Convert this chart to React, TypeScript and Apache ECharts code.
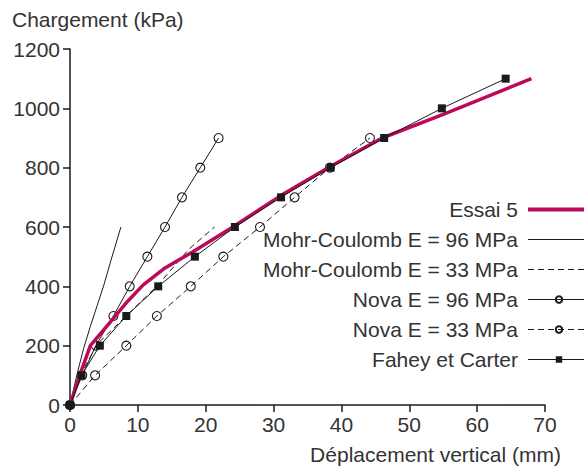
import React, { useEffect, useRef } from "react";
import * as echarts from "echarts";

const xTicks = [0, 10, 20, 30, 40, 50, 60, 70];
const yTicks = [0, 200, 400, 600, 800, 1000, 1200];

const essai5: [number, number][] = [
  [0, 0], [1.5, 105], [3, 200], [6.4, 292], [8.5, 350], [10.8, 405], [14, 462],
  [18, 515], [24, 600], [31, 705], [38.3, 803], [46, 900], [55, 980], [68, 1100],
];
const mc96: [number, number][] = [
  [0, 0], [1, 100], [2, 190], [3, 265], [4, 335], [5, 405], [6, 485], [7.5, 600],
];
const mc33: [number, number][] = [
  [0, 0], [1.5, 100], [4, 205], [8.5, 305], [13, 405], [17.5, 525], [21.3, 600],
];
const nova96: [number, number][] = [
  [0, 0], [1.8, 100], [3.8, 200], [6.4, 300], [8.8, 400], [11.4, 500], [14, 600],
  [16.5, 700], [19.2, 800], [21.9, 900],
];
const nova33: [number, number][] = [
  [0, 0], [3.7, 100], [8.3, 200], [12.8, 300], [17.8, 400], [22.6, 500], [28, 600],
  [33.1, 700], [38.3, 800], [44.2, 900],
];
const fahey: [number, number][] = [
  [0, 0], [1.7, 100], [4.4, 200], [8.3, 300], [13, 400], [18.4, 500], [24.3, 600],
  [31.1, 700], [38.4, 800], [46.3, 900], [54.8, 1000], [64.2, 1100],
];

const names = [
  "Essai 5",
  "Mohr-Coulomb E = 96 MPa",
  "Mohr-Coulomb E = 33 MPa",
  "Nova E = 96 MPa",
  "Nova E = 33 MPa",
  "Fahey et Carter",
];

const FONT = "'Liberation Sans', Arial, Helvetica, sans-serif";
const FS = 21;
const TXT = "#333";
const INK = "#1a1a1a";
const MAGENTA = "#bb0a5c";

export default function App() {
  const ref = useRef<HTMLDivElement>(null);
  useEffect(() => {
    if (!ref.current) return;
    const chart = echarts.init(ref.current, undefined, { renderer: "svg" });
    const openCircle = {
      color: "rgba(255,255,255,0)",
      borderColor: INK,
      borderWidth: 1.1,
    };
    const noMarker = { color: "rgba(0,0,0,0)", borderColor: "rgba(0,0,0,0)", borderWidth: 0 };
    chart.setOption({
      animation: false,
      textStyle: { fontFamily: FONT },
      title: [
        {
          text: "Chargement (kPa)",
          left: 7,
          top: 4,
          textStyle: { fontFamily: FONT, fontSize: FS, fontWeight: "normal", color: TXT },
        },
        {
          text: "Déplacement vertical (mm)",
          right: 18,
          top: 439,
          textStyle: { fontFamily: FONT, fontSize: FS, fontWeight: "normal", color: TXT },
        },
      ],
      grid: { left: 70, right: 39, top: 49, bottom: 64 },
      legend: {
        orient: "vertical",
        right: -13,
        top: 194,
        align: "right",
        itemWidth: 62,
        itemHeight: 8,
        itemGap: 9,
        textStyle: { fontFamily: FONT, fontSize: FS, color: TXT, padding: [0, 5, 0, 0] },
        data: [
          { name: names[0], lineStyle: { width: 4 }, itemStyle: noMarker },
          { name: names[1], lineStyle: { width: 1 }, itemStyle: noMarker },
          { name: names[2], lineStyle: { width: 1 }, itemStyle: noMarker },
          { name: names[3], lineStyle: { width: 1 } },
          { name: names[4], lineStyle: { width: 1 } },
          { name: names[5], lineStyle: { width: 1 } },
        ],
      },
      xAxis: {
        type: "value",
        min: 0,
        max: 70,
        interval: 10,
        axisLine: { lineStyle: { color: INK, width: 1.5 } },
        axisTick: { inside: false, length: 7, lineStyle: { color: INK, width: 1.5 } },
        axisLabel: { fontFamily: FONT, fontSize: FS, color: TXT, margin: 9 },
        splitLine: { show: false },
      },
      yAxis: {
        type: "value",
        min: 0,
        max: 1200,
        interval: 200,
        axisLine: { show: true, lineStyle: { color: INK, width: 1.5 } },
        axisTick: { show: true, inside: false, length: 7, lineStyle: { color: INK, width: 1.5 } },
        axisLabel: {
          fontFamily: FONT,
          fontSize: FS,
          color: TXT,
          margin: 10,
          formatter: (v: number) => String(v),
        },
        splitLine: { show: false },
      },
      series: [
        {
          name: names[1],
          type: "line",
          data: mc96,
          symbol: "none",
          lineStyle: { color: INK, width: 1 },
          itemStyle: { color: INK },
          z: 2,
        },
        {
          name: names[2],
          type: "line",
          data: mc33,
          symbol: "none",
          lineStyle: { color: INK, width: 1, type: [6, 4] },
          itemStyle: { color: INK },
          z: 2,
        },
        {
          name: names[3],
          type: "line",
          data: nova96,
          symbol: "circle",
          symbolSize: 9,
          lineStyle: { color: INK, width: 1 },
          itemStyle: openCircle,
          z: 3,
        },
        {
          name: names[4],
          type: "line",
          data: nova33,
          symbol: "circle",
          symbolSize: 9,
          lineStyle: { color: INK, width: 1, type: [6, 4] },
          itemStyle: openCircle,
          z: 3,
        },
        {
          name: names[0],
          type: "line",
          data: essai5,
          symbol: "none",
          lineStyle: { color: MAGENTA, width: 3.5, join: "round" },
          itemStyle: { color: MAGENTA },
          z: 4,
        },
        {
          name: names[5],
          type: "line",
          data: fahey,
          symbol: "rect",
          symbolSize: 8,
          lineStyle: { color: INK, width: 1 },
          itemStyle: { color: INK },
          z: 5,
        },
      ],
    });
    return () => chart.dispose();
  }, []);
  return (
    <div
      ref={ref}
      style={{ position: "absolute", left: 0, top: 0, width: 584, height: 469 }}
    />
  );
}
